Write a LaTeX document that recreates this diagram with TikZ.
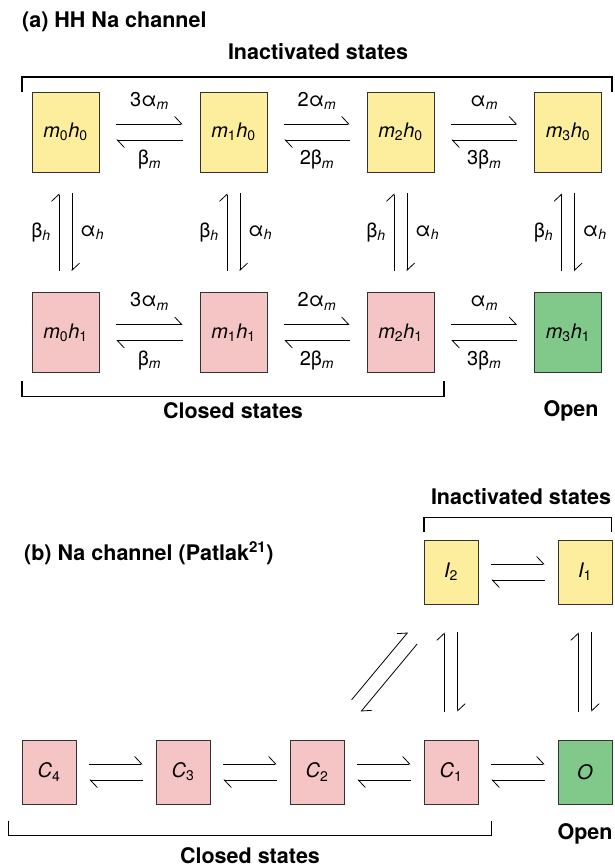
\documentclass[tikz,border=0pt]{standalone}
\usepackage{fontspec}
\setmainfont{TeX Gyre Heros}
\usepackage{tikz}
\usetikzlibrary{positioning,arrows.meta,calc}
\definecolor{inactyel}{RGB}{252,238,156}
\definecolor{closedpink}{RGB}{244,197,196}
\definecolor{opengreen}{RGB}{128,201,139}
\tikzset{
  st/.style    ={draw=black!80, rectangle, line width=0.8pt, inner sep=0pt, minimum width=67pt, minimum height=80pt, font=\fontsize{20}{22}\selectfont\itshape},
  sst/.style   ={st, minimum width=54pt, minimum height=64pt},
  inact/.style ={fill=inactyel},
  closd/.style ={fill=closedpink},
  opn/.style   ={fill=opengreen},
  harp/.style  ={-{Straight Barb[left, length=7pt, width=15pt]}, line width=0.8pt},
  rate/.style  ={font=\fontsize{20}{22}\selectfont, inner sep=2pt},
  ttl/.style   ={font=\fontsize{21.5}{24}\selectfont\bfseries, inner sep=0pt},
  brk/.style   ={line width=1.3pt},
}

\begin{document}
\begin{tikzpicture}[x=1pt, y=-1pt]
    \useasboundingbox (0,0) rectangle (614,867);

    % (a) HH Na channel
    \node[ttl, anchor=west] (ttla) at (22,22) {(a) HH Na channel};
    \node[ttl] (inacta) at (318,52) {Inactivated states};
    \draw[brk] (22,92) -- (22,77) -- (612,77) -- (612,92);

    \node[st, inact] (m0h0) at (65.5,132) {m\textsubscript{\upshape 0}h\textsubscript{\upshape 0}};
    \node[st, inact] (m1h0) at (233.5,132) {m\textsubscript{\upshape 1}h\textsubscript{\upshape 0}};
    \node[st, inact] (m2h0) at (400.5,132) {m\textsubscript{\upshape 2}h\textsubscript{\upshape 0}};
    \node[st, inact] (m3h0) at (568,132) {m\textsubscript{\upshape 3}h\textsubscript{\upshape 0}};
    \node[st, closd] (m0h1) at (65.5,332.5) {m\textsubscript{\upshape 0}h\textsubscript{\upshape 1}};
    \node[st, closd] (m1h1) at (233.5,332.5) {m\textsubscript{\upshape 1}h\textsubscript{\upshape 1}};
    \node[st, closd] (m2h1) at (400.5,332.5) {m\textsubscript{\upshape 2}h\textsubscript{\upshape 1}};
    \node[st, opn]   (m3h1) at (568,332.5) {m\textsubscript{\upshape 3}h\textsubscript{\upshape 1}};

    \foreach \a/\b/\fw/\bw in {m0/m1/3/, m1/m2/2/2, m2/m3//3} {
      \foreach \h in {0,1} {
        \draw[harp] ([xshift=17pt,yshift=8pt]\a h\h.east) -- ([xshift=-17pt,yshift=8pt]\b h\h.west)
          node[rate, midway, above=12pt] {\fw α\textsubscript{\itshape m}};
        \draw[harp] ([xshift=-17pt,yshift=-8pt]\b h\h.west) -- ([xshift=17pt,yshift=-8pt]\a h\h.east)
          node[rate, midway, below=8pt] {\bw β\textsubscript{\itshape m}};
      }
    }
    \foreach \m in {m0,m1,m2,m3} {
      \draw[harp] ([xshift=-6.5pt,yshift=21pt]\m h1.north) -- ([xshift=-6.5pt,yshift=-21pt]\m h0.south)
        node[rate, midway, left=6pt] {β\textsubscript{\itshape h}};
      \draw[harp] ([xshift=6.5pt,yshift=-21pt]\m h0.south) -- ([xshift=6.5pt,yshift=21pt]\m h1.north)
        node[rate, midway, right=6pt] {α\textsubscript{\itshape h}};
    }

    \draw[brk] (22,381) -- (22,396.5) -- (444,396.5) -- (444,381);
    \node[ttl] (closeda) at (233,411) {Closed states};
    \node[ttl] (opena) at (571,411) {Open};

    % (b) Na channel (Patlak)
    \node[ttl, anchor=west] (ttlb) at (24,553) {(b) Na channel (Patlak\textsuperscript{21})};
    \node[ttl] (inactb) at (521,497) {Inactivated states};
    \draw[brk] (424,531.5) -- (424,517.5) -- (611.5,517.5) -- (611.5,531.5);

    \node[sst, inact] (I2) at (451,572) {I\textsubscript{\upshape 2}};
    \node[sst, inact] (I1) at (585,572) {I\textsubscript{\upshape 1}};
    \node[sst, closd] (C4) at (49,772) {C\textsubscript{\upshape 4}};
    \node[sst, closd] (C3) at (183,772) {C\textsubscript{\upshape 3}};
    \node[sst, closd] (C2) at (317,772) {C\textsubscript{\upshape 2}};
    \node[sst, closd] (C1) at (451,772) {C\textsubscript{\upshape 1}};
    \node[sst, opn]   (O)  at (585,772) {O};

    \foreach \a/\b in {C4/C3, C3/C2, C2/C1, C1/O, I2/I1} {
      \draw[harp] ([xshift=13pt,yshift=8pt]\a.east) -- ([xshift=-13pt,yshift=8pt]\b.west);
      \draw[harp] ([xshift=-13pt,yshift=-8pt]\b.west) -- ([xshift=13pt,yshift=-8pt]\a.east);
    }
    \foreach \a/\b in {C1/I2, O/I1} {
      \draw[harp] ([xshift=-6.7pt,yshift=28pt]\a.north) -- ([xshift=-6.7pt,yshift=-28pt]\b.south);
      \draw[harp] ([xshift=6.7pt,yshift=-28pt]\b.south) -- ([xshift=6.7pt,yshift=28pt]\a.north);
    }
    \draw[harp, shorten <=44pt, shorten >=44pt] ([xshift=6.4pt,yshift=5.9pt]C2.north) -- ([xshift=-15pt,yshift=5.9pt]I2.south);
    \draw[harp, shorten <=44pt, shorten >=44pt] ([xshift=-5.8pt,yshift=-5.9pt]I2.south) -- ([xshift=15.7pt,yshift=-5.9pt]C2.north);

    \draw[brk] (8.5,820.5) -- (8.5,835.5) -- (491.5,835.5) -- (491.5,820.5);
    \node[ttl] (closedb) at (250,856) {Closed states};
    \node[ttl] (openb) at (585,834) {Open};
  \end{tikzpicture}
\end{document}
